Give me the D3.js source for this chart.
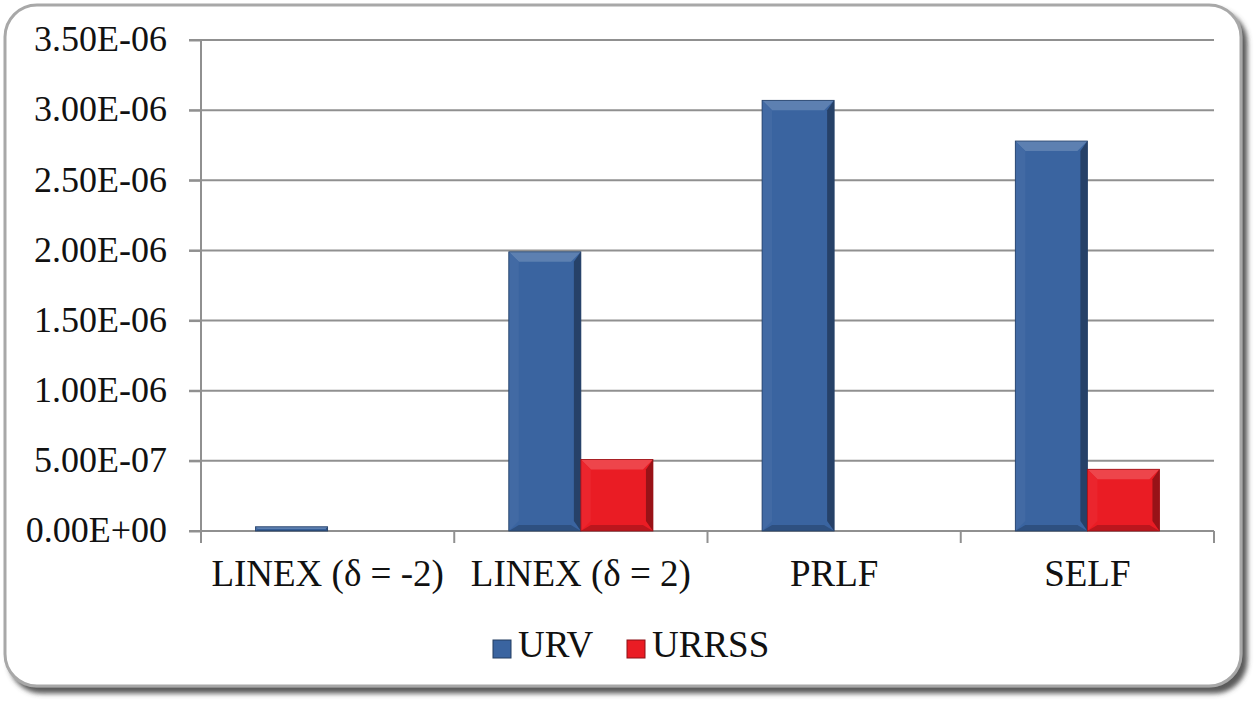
<!DOCTYPE html>
<html>
<head>
<meta charset="utf-8">
<script src="https://cdn.jsdelivr.net/npm/d3@7"></script>
<style>
  body { margin: 0; background: #fff; }
</style>
</head>
<body>
<div id="graf"></div>
<script>
const categorias = ["LINEX (\u03b4 = -2)", "LINEX (\u03b4 = 2)", "PRLF", "SELF"]
const series = ["URV", "URRSS"]
const urv = [3e-8, 1.99e-6, 3.07e-6, 2.78e-6]
const urrss = [0, 5.1e-7, 0, 4.4e-7]
const yTicks = [0, 5e-7, 1e-6, 1.5e-6, 2e-6, 2.5e-6, 3e-6, 3.5e-6]
const colores = { URV: "#3a64a0", URRSS: "#ea1c24" }

const fuente = "\"Liberation Serif\", \"Times New Roman\", serif"
const ancho = 1255
const alto = 701
const m = { left: 201, right: 1214, top: 40, bottom: 531 }

const svg = d3.select("#graf").append("svg")
  .attr("width", ancho)
  .attr("height", alto)

const defs = svg.append("defs")
defs.append("filter").attr("id", "sombra")
  .attr("x", "-5%").attr("y", "-5%").attr("width", "115%").attr("height", "115%")
  .append("feDropShadow")
  .attr("dx", 5).attr("dy", 6).attr("stdDeviation", 2.5)
  .attr("flood-color", "#4a4a4a").attr("flood-opacity", 0.9)

// marco redondeado
svg.append("rect")
  .attr("x", 5).attr("y", 5)
  .attr("width", 1236).attr("height", 681)
  .attr("rx", 32)
  .attr("fill", "#fff")
  .attr("stroke", "#a8a8a8")
  .attr("stroke-width", 3)
  .attr("filter", "url(#sombra)")

const x = d3.scaleBand().domain(categorias).range([m.left, m.right])
const xs = d3.scaleBand().domain(series).range([0, x.bandwidth()]).paddingOuter(0.757)
const y = d3.scaleLinear().domain([0, 3.5e-6]).range([m.bottom, m.top])

const fmt = (v) => {
  if (v === 0) return "0.00E+00"
  const e = Math.floor(Math.log10(v) + 1e-9)
  const man = v / Math.pow(10, e)
  const s = e < 0 ? "-" : "+"
  return man.toFixed(2) + "E" + s + String(Math.abs(e)).padStart(2, "0")
}

// rejilla
svg.append("g")
  .selectAll("line")
  .data(yTicks.slice(1))
  .join("line")
  .attr("x1", m.left - 12).attr("x2", m.right)
  .attr("y1", (d) => y(d)).attr("y2", (d) => y(d))
  .attr("stroke", "#909090").attr("stroke-width", 2)

// eje y
const ejeY = svg.append("g")
  .attr("transform", `translate(${m.left},0)`)
  .call(d3.axisLeft(y).tickValues(yTicks).tickFormat(fmt).tickSize(12).tickPadding(22))
ejeY.attr("font-family", null).attr("font-size", null)
ejeY.select(".domain").attr("stroke", "#909090").attr("stroke-width", 2)
  .attr("d", `M0,${m.top}V${m.bottom + 12}`)
ejeY.selectAll(".tick line").attr("stroke", "#909090").attr("stroke-width", 2)
ejeY.selectAll(".tick text")
  .style("font-family", fuente).style("font-size", "36px")
  .attr("fill", "#111").attr("dy", "0.3em")

// eje x
const ejeX = svg.append("g")
  .attr("transform", `translate(0,${m.bottom})`)
ejeX.append("line")
  .attr("x1", m.left - 12).attr("x2", m.right)
  .attr("stroke", "#909090").attr("stroke-width", 2)
ejeX.selectAll("line.tk")
  .data(categorias.map((c) => x(c)).concat([m.right]))
  .join("line").attr("class", "tk")
  .attr("x1", (d) => d).attr("x2", (d) => d)
  .attr("y1", 0).attr("y2", 12)
  .attr("stroke", "#909090").attr("stroke-width", 2)
ejeX.selectAll("text")
  .data(categorias)
  .join("text")
  .attr("x", (d) => x(d) + x.bandwidth() / 2)
  .attr("y", 55)
  .attr("text-anchor", "middle")
  .attr("fill", "#111")
  .style("font-family", fuente).style("font-size", "37px")
  .text((d) => d)

// barras con bisel
const datos = []
categorias.forEach((c, i) => {
  datos.push({ cat: c, serie: "URV", valor: urv[i] })
  datos.push({ cat: c, serie: "URRSS", valor: urrss[i] })
})

const shade = (col, k) => d3.interpolateRgb(col, k > 0 ? "#fff" : "#000")(Math.abs(k))

const barras = svg.append("g")
  .selectAll("g")
  .data(datos.filter((d) => d.valor > 0))
  .join("g")

barras.each(function (d) {
  const g = d3.select(this)
  const x0 = x(d.cat) + xs(d.serie)
  const w = xs.bandwidth()
  const y0 = y(d.valor)
  const h = y(0) - y0
  const b = Math.min(10, h / 2)
  const col = colores[d.serie]
  g.append("rect").attr("x", x0).attr("y", y0).attr("width", w).attr("height", h)
    .attr("fill", col)
  // arriba
  g.append("polygon")
    .attr("points", [[x0, y0], [x0 + w, y0], [x0 + w - b, y0 + b], [x0 + b, y0 + b]].join(" "))
    .attr("fill", shade(col, 0.18))
  // izquierda
  g.append("polygon")
    .attr("points", [[x0, y0], [x0 + b, y0 + b], [x0 + b, y0 + h - b], [x0, y0 + h]].join(" "))
    .attr("fill", shade(col, 0.04))
  // derecha
  g.append("polygon")
    .attr("points", [[x0 + w, y0], [x0 + w, y0 + h], [x0 + w - b * 0.7, y0 + h - b], [x0 + w - b * 0.7, y0 + b]].join(" "))
    .attr("fill", shade(col, -0.35))
  // abajo
  g.append("polygon")
    .attr("points", [[x0, y0 + h], [x0 + w, y0 + h], [x0 + w - b, y0 + h - b * 0.6], [x0 + b, y0 + h - b * 0.6]].join(" "))
    .attr("fill", shade(col, -0.2))
  g.append("rect").attr("x", x0).attr("y", y0).attr("width", w).attr("height", h)
    .attr("fill", "none").attr("stroke", shade(col, -0.35)).attr("stroke-width", 0.8)
})

// leyenda
const ley = svg.append("g").attr("transform", "translate(493,640)")
const items = ley.selectAll("g")
  .data(series)
  .join("g")
  .attr("transform", (d, i) => `translate(${i * 134},0)`)
items.append("rect")
  .attr("width", 18).attr("height", 18)
  .attr("fill", (d) => colores[d])
  .attr("stroke", (d) => shade(colores[d], -0.4)).attr("stroke-width", 1)
items.append("text")
  .attr("x", 25).attr("y", 17)
  .attr("fill", "#111")
  .style("font-family", fuente).style("font-size", "37px")
  .text((d) => d)
</script>
</body>
</html>
